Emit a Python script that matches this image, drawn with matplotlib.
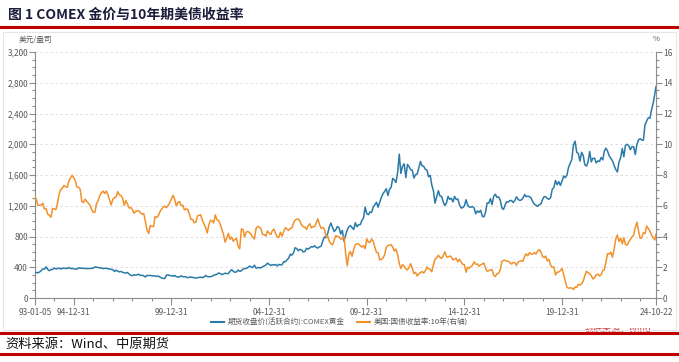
import numpy as np
import pandas as pd
import matplotlib
matplotlib.use("Agg")
import matplotlib.pyplot as plt
from matplotlib.ticker import MultipleLocator, FuncFormatter
from matplotlib.patches import Rectangle
from matplotlib.lines import Line2D

plt.rcParams['font.family'] = ['Noto Sans CJK SC', 'DejaVu Sans']

# ---------------------------------------------------------------------------
# Data (monthly points, first/last are exact dates)
# ---------------------------------------------------------------------------
start_date = "1993-01-05"
end_date = "2024-10-22"

gold_start = 330
gold_monthly = [
    332, 328, 338, 355, 378, 375, 405, 372, 355, 370, 371, 390,
    378, 381, 391, 376, 387, 388, 384, 385, 396, 383, 384, 383,
    376, 376, 392, 389, 385, 388, 383, 384, 384, 383, 387, 387,
    405, 401, 396, 392, 392, 382, 386, 387, 379, 379, 372, 369,
    345, 362, 349, 340, 345, 336, 326, 325, 332, 311, 296, 290,
    303, 297, 301, 310, 293, 296, 288, 273, 294, 292, 294, 288,
    287, 287, 280, 286, 272, 261, 255, 255, 299, 299, 292, 290,
    283, 294, 277, 274, 273, 289, 276, 278, 273, 264, 270, 273,
    265, 267, 258, 264, 268, 271, 265, 273, 293, 279, 275, 278,
    282, 297, 303, 308, 326, 318, 304, 312, 323, 317, 318, 347,
    368, 348, 335, 339, 364, 346, 354, 375, 385, 384, 397, 416,
    400, 397, 427, 388, 394, 395, 391, 408, 416, 428, 453, 438,
    423, 434, 428, 436, 417, 437, 430, 433, 473, 470, 496, 518,
    569, 557, 584, 654, 643, 614, 633, 624, 599, 604, 646, 636,
    651, 668, 663, 679, 657, 650, 666, 672, 743, 794, 783, 838,
    926, 975, 917, 864, 887, 930, 913, 833, 880, 740, 816, 884,
    928, 942, 916, 891, 979, 927, 954, 955, 1008, 1040, 1182, 1097,
    1083, 1118, 1113, 1180, 1213, 1245, 1181, 1248, 1308, 1357, 1386, 1421,
    1333, 1411, 1439, 1556, 1536, 1502, 1628, 1870, 1620, 1714, 1746, 1566,
    1737, 1711, 1669, 1664, 1560, 1604, 1614, 1692, 1776, 1719, 1713, 1675,
    1663, 1578, 1595, 1472, 1392, 1234, 1313, 1396, 1327, 1323, 1250, 1202,
    1240, 1321, 1284, 1296, 1250, 1322, 1282, 1287, 1210, 1171, 1175, 1199,
    1278, 1212, 1183, 1182, 1190, 1172, 1095, 1132, 1114, 1141, 1064, 1055,
    1117, 1237, 1234, 1292, 1215, 1321, 1350, 1309, 1315, 1273, 1171, 1152,
    1211, 1252, 1248, 1268, 1268, 1242, 1269, 1316, 1283, 1270, 1275, 1303,
    1345, 1318, 1325, 1318, 1301, 1253, 1223, 1206, 1192, 1215, 1222, 1281,
    1320, 1316, 1295, 1285, 1305, 1413, 1437, 1529, 1473, 1513, 1465, 1520,
    1588, 1566, 1597, 1700, 1751, 1800, 1990, 2040, 1895, 1879, 1780, 1895,
    1850, 1734, 1715, 1769, 1906, 1771, 1817, 1818, 1757, 1784, 1776, 1828,
    1797, 1909, 1949, 1911, 1848, 1817, 1782, 1726, 1672, 1640, 1768, 1826,
    1945, 1837, 1986, 1999, 1982, 1929, 1970, 1966, 1866, 1996, 2057, 2072,
    2053, 2054, 2254, 2302, 2345, 2339, 2448, 2536, 2660,
]
gold_end = 2750

yield_start = 6.60
yield_monthly = [
    6.39, 6.03, 6.03, 6.05, 6.16, 5.80, 5.81, 5.45, 5.38, 5.25, 5.82, 5.79,
    5.75, 6.15, 6.74, 7.04, 7.15, 7.32, 7.24, 7.20, 7.62, 7.81, 7.98, 7.82,
    7.60, 7.22, 7.20, 7.06, 6.28, 6.20, 6.43, 6.28, 6.17, 6.02, 5.76, 5.57,
    5.58, 6.13, 6.34, 6.66, 6.85, 6.95, 6.80, 6.96, 6.72, 6.37, 6.06, 6.43,
    6.53, 6.56, 6.92, 6.72, 6.67, 6.51, 6.02, 6.34, 6.12, 5.85, 5.88, 5.75,
    5.51, 5.63, 5.66, 5.67, 5.55, 5.45, 5.49, 5.00, 4.42, 4.20, 4.71, 4.65,
    4.65, 5.29, 5.24, 5.35, 5.62, 5.78, 5.90, 5.97, 5.88, 6.02, 6.19, 6.45,
    6.68, 6.42, 6.00, 6.21, 6.27, 6.03, 6.03, 5.73, 5.80, 5.75, 5.47, 5.11,
    5.11, 4.90, 4.92, 5.34, 5.38, 5.41, 5.05, 4.83, 4.59, 4.23, 4.75, 5.05,
    5.03, 4.88, 5.40, 5.09, 5.04, 4.80, 4.46, 4.14, 3.63, 3.89, 4.21, 3.82,
    3.96, 3.69, 3.80, 3.89, 3.37, 3.20, 4.49, 4.45, 3.96, 4.29, 4.33, 4.25,
    4.13, 3.97, 3.84, 4.51, 4.65, 4.62, 4.50, 4.13, 4.12, 4.03, 4.36, 4.22,
    4.13, 4.36, 4.48, 4.20, 3.98, 3.94, 4.28, 4.02, 4.33, 4.57, 4.49, 4.39,
    4.53, 4.55, 4.86, 5.07, 5.12, 5.14, 4.99, 4.74, 4.63, 4.61, 4.46, 4.71,
    4.83, 4.56, 4.65, 4.63, 4.89, 5.15, 4.78, 4.54, 4.59, 4.48, 3.97, 4.04,
    3.67, 3.53, 3.45, 3.77, 4.06, 3.99, 3.99, 3.83, 3.85, 4.01, 2.93, 2.10,
    2.87, 3.02, 2.71, 3.16, 3.47, 3.53, 3.52, 3.40, 3.31, 3.41, 3.21, 3.85,
    3.63, 3.61, 3.84, 3.69, 3.31, 2.97, 2.94, 2.47, 2.51, 2.60, 2.81, 3.30,
    3.42, 3.43, 3.47, 3.32, 3.05, 3.18, 2.82, 2.23, 1.92, 2.17, 2.08, 1.89,
    1.83, 1.98, 2.23, 1.95, 1.59, 1.67, 1.43, 1.57, 1.65, 1.72, 1.62, 1.78,
    2.02, 1.89, 1.87, 1.70, 2.16, 2.52, 2.60, 2.78, 2.64, 2.57, 2.75, 3.00,
    2.67, 2.66, 2.73, 2.67, 2.48, 2.53, 2.58, 2.35, 2.52, 2.35, 2.18, 2.17,
    1.68, 2.00, 1.94, 2.05, 2.12, 2.35, 2.20, 2.21, 2.06, 2.16, 2.21, 2.27,
    1.94, 1.74, 1.78, 1.83, 1.84, 1.49, 1.40, 1.58, 1.60, 1.84, 2.37, 2.45,
    2.45, 2.39, 2.40, 2.29, 2.21, 2.31, 2.30, 2.12, 2.33, 2.38, 2.42, 2.40,
    2.72, 2.87, 2.74, 2.95, 2.86, 2.85, 2.96, 2.86, 3.05, 3.14, 3.01, 2.69,
    2.63, 2.73, 2.41, 2.51, 2.14, 2.00, 2.02, 1.50, 1.68, 1.69, 1.78, 1.92,
    1.51, 1.13, 0.70, 0.64, 0.65, 0.66, 0.55, 0.72, 0.69, 0.88, 0.84, 0.93,
    1.11, 1.44, 1.74, 1.65, 1.58, 1.45, 1.24, 1.31, 1.52, 1.55, 1.43, 1.52,
    1.79, 1.83, 2.32, 2.89, 2.85, 2.98, 2.65, 3.19, 3.83, 4.10, 3.68, 3.88,
    3.52, 3.92, 3.48, 3.44, 3.64, 3.81, 3.97, 4.09, 4.57, 4.93, 4.37, 3.88,
    3.91, 4.25, 4.20, 4.68, 4.51, 4.36, 4.09, 3.91, 3.78,
]
yield_end = 4.15

tick_labels = ["93-01-05", "94-12-31", "99-12-31", "04-12-31",
               "09-12-31", "14-12-31", "19-12-31", "24-10-22"]

gold_label = "期货收盘价(活跃合约):COMEX黄金"
yield_label = "美国:国债收益率:10年(右轴)"
title = "图 1 COMEX 金价与10年期美债收益率"
source = "资料来源：Wind、中原期货"

# ---------------------------------------------------------------------------
month_ends = pd.date_range("1993-01-31", "2024-09-30", freq="ME")
dates = pd.DatetimeIndex([pd.Timestamp(start_date)]).append(month_ends).append(
    pd.DatetimeIndex([pd.Timestamp(end_date)]))
gold = [gold_start] + gold_monthly + [gold_end]
yld = [yield_start] + yield_monthly + [yield_end]

BLUE = "#2a7aa8"
ORANGE = "#f2912a"
GREY = "#5a5a5a"
AXC = "#8c8c8c"

fig = plt.figure(figsize=(6.79, 3.62), dpi=100)
fig.patch.set_facecolor("white")

# faint frame of the embedded chart
fig.patches.append(Rectangle((3 / 679, 1 - 330 / 362), 673 / 679, 298 / 362,
                             transform=fig.transFigure, fill=False,
                             edgecolor="#e6e6e6", linewidth=0.8))

ax = fig.add_axes([35 / 679, 1 - 298 / 362, 621 / 679, 246 / 362])
ax2 = ax.twinx()

ax.plot(dates, gold, color=BLUE, linewidth=1.1, zorder=3)
ax2.plot(dates, yld, color=ORANGE, linewidth=1.1, zorder=3)

xmin, xmax = pd.Timestamp(start_date), pd.Timestamp(end_date)
ax.set_xlim(xmin, xmax)
ax.set_ylim(0, 3200)
ax2.set_ylim(0, 16)

ax.yaxis.set_major_locator(MultipleLocator(400))
ax.yaxis.set_minor_locator(MultipleLocator(100))
ax.yaxis.set_major_formatter(FuncFormatter(lambda v, p: f"{int(v):,}"))
ax2.yaxis.set_major_locator(MultipleLocator(2))
ax2.yaxis.set_minor_locator(MultipleLocator(0.5))

major_dates = [pd.Timestamp(start_date)] + [pd.Timestamp(f"{y}-12-31") for y in (1994, 1999, 2004, 2009, 2014, 2019)] + [pd.Timestamp(end_date)]
minor_dates = [pd.Timestamp(f"{y}-12-31") for y in range(1993, 2024)]
ax.set_xticks(major_dates)
ax.set_xticklabels(tick_labels)
ax.set_xticks(minor_dates, minor=True)

ax.grid(axis="y", which="major", linestyle=(0, (3, 3)), color="#d9d9d9", linewidth=0.6)
ax.set_axisbelow(True)

for a in (ax, ax2):
    for s in ("top",):
        a.spines[s].set_visible(False)
    a.tick_params(which="both", colors=AXC, labelcolor=GREY, labelsize=6, width=0.8)
    a.tick_params(which="major", length=4)
    a.tick_params(which="minor", length=2.5)
ax.spines["right"].set_visible(False)
ax2.spines["left"].set_visible(False)
ax.spines["left"].set_color(AXC)
ax.spines["bottom"].set_color(AXC)
ax2.spines["right"].set_color(AXC)
ax2.spines["bottom"].set_visible(False)
ax.tick_params(axis="x", which="major", length=5, pad=2)
ax.tick_params(axis="y", pad=1)
ax2.tick_params(axis="y", pad=1)

ax.text(-0.0, 1.035, "美元/盎司", transform=ax.transAxes, fontsize=5.5,
        color=GREY, ha="center", va="bottom")
ax2.text(1.0, 1.035, "%", transform=ax2.transAxes, fontsize=5.5,
         color=GREY, ha="center", va="bottom")

# legend
handles = [Line2D([0], [0], color=BLUE, lw=1.5), Line2D([0], [0], color=ORANGE, lw=1.5)]
fig.legend(handles, [gold_label, yield_label], loc="center",
           bbox_to_anchor=(0.5, 1 - 323 / 362), ncol=2, frameon=False,
           fontsize=5.5, handlelength=1.8, handletextpad=0.5, columnspacing=1.5,
           labelcolor=GREY)

# title and red rules
fig.text(8 / 679, 1 - 15 / 362, title, fontsize=10, color="#1c1c3c",
         ha="left", va="center", fontweight="bold")
for yy in (27, 333, 354):
    fig.add_artist(Line2D([0, 1], [1 - yy / 362] * 2, color="#c00000",
                          linewidth=2.2, transform=fig.transFigure))
fig.text(5 / 679, 1 - 344 / 362, source, fontsize=9.5, color="#111111",
         ha="left", va="center")

# clipped watermark just above the bottom rule
wm = fig.add_axes([580 / 679, 1 - 332 / 362, 99 / 679, 4 / 362])
wm.axis("off")
wm.text(0.05, -0.6, "数据来源：Wind", transform=wm.transAxes, fontsize=6.5,
        color="#d04040", ha="left", va="bottom", clip_on=True)

fig.savefig("out.png", dpi=100, facecolor="white")
